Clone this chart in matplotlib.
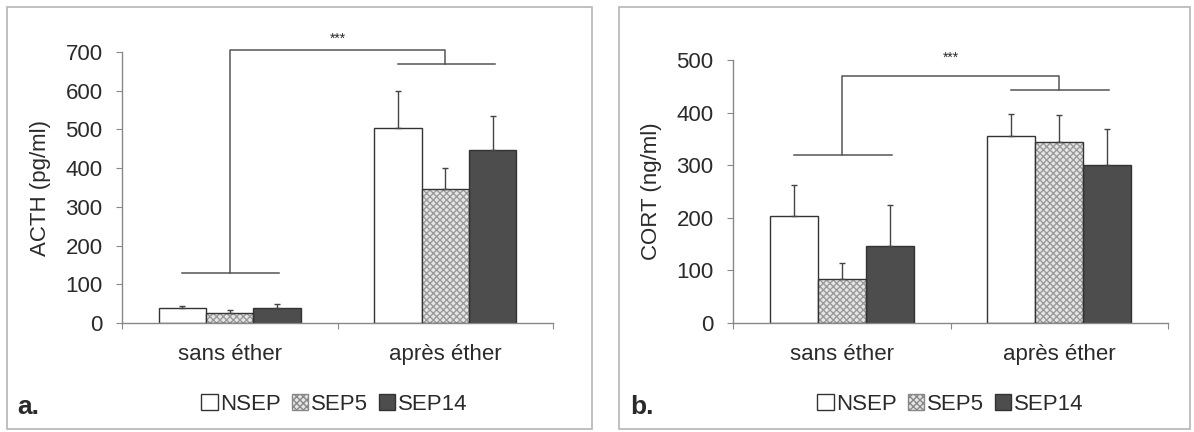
import matplotlib
matplotlib.use("Agg")
import matplotlib.pyplot as plt
import numpy as np
from matplotlib.patches import Rectangle, Patch

plt.rcParams['font.family'] = ['Liberation Sans', 'DejaVu Sans']

categories = ["sans éther", "après éther"]
series = ["NSEP", "SEP5", "SEP14"]

acth_means = {"NSEP": [38, 503], "SEP5": [25, 345], "SEP14": [40, 447]}
acth_err = {"NSEP": [5, 97], "SEP5": [8, 55], "SEP14": [10, 88]}
cort_means = {"NSEP": [203, 355], "SEP5": [83, 345], "SEP14": [147, 300]}
cort_err = {"NSEP": [60, 42], "SEP5": [32, 50], "SEP14": [78, 68]}

acth_ticks = [0, 100, 200, 300, 400, 500, 600, 700]
cort_ticks = [0, 100, 200, 300, 400, 500]

# bracket levels: (top, left-group level, right-group level, star level)
acth_bracket = (705, 128, 670, 735)
cort_bracket = (470, 320, 443, 505)

TEXT = '#2a2a2a'
FS = 16
fig = plt.figure(figsize=(11.94, 4.32), dpi=100)

# panel frames
for x0, x1 in [(7, 592), (619, 1190)]:
    fig.add_artist(Rectangle((x0 / 1194, 1 - 429 / 432), (x1 - x0) / 1194, (429 - 7) / 432,
                             transform=fig.transFigure, fill=False, edgecolor='#b5b5b5', lw=1.2))

W = 0.22
offsets = [-W, 0, W]

def panel(rect, means, errs, ticks, ylabel, bracket, letter, letter_x, leg_x):
    ax = fig.add_axes(rect)
    x = np.arange(len(categories))
    for i, s in enumerate(series):
        xs = x + offsets[i]
        if s == "NSEP":
            ax.bar(xs, means[s], W, facecolor='white', edgecolor='#333333', lw=1.0, zorder=2)
        elif s == "SEP5":
            ax.bar(xs, means[s], W, facecolor='#e6e6e6', edgecolor='#9a9a9a', hatch='xxxxx', lw=0, zorder=2)
            ax.bar(xs, means[s], W, facecolor='none', edgecolor='#333333', lw=1.0, zorder=3)
        else:
            ax.bar(xs, means[s], W, facecolor='#4d4d4d', edgecolor='#333333', lw=1.0, zorder=2)
        ax.errorbar(xs, means[s], yerr=[np.zeros(len(xs)), errs[s]], fmt='none',
                    ecolor='#444444', elinewidth=1.0, capsize=2.5, capthick=1.0, zorder=4)
    ax.set_xlim(-0.5, 1.5)
    ax.set_ylim(0, ticks[-1])
    ax.set_yticks(ticks)
    ax.set_yticklabels([str(t) for t in ticks], fontsize=FS, color=TEXT)
    ax.set_xticks([-0.5, 0.5, 1.5])
    ax.set_xticklabels([])
    ax.set_xticks(x, minor=True)
    ax.set_xticklabels(categories, minor=True, fontsize=FS, color=TEXT)
    ax.tick_params(axis='x', which='minor', length=0, pad=15)
    ax.tick_params(axis='x', which='major', length=4, color='#888888', direction='out')
    ax.tick_params(axis='y', length=4, color='#888888', direction='out', pad=10)
    for sp in ['top', 'right']:
        ax.spines[sp].set_visible(False)
    for sp in ['left', 'bottom']:
        ax.spines[sp].set_color('#888888')
        ax.spines[sp].set_linewidth(1.0)
    ax.set_ylabel(ylabel, fontsize=FS, color=TEXT, labelpad=10)
    top, lv, rv, star = bracket
    lc = '#555555'
    kw = dict(color=lc, lw=1.1, clip_on=False, zorder=5)
    ax.plot([0, 0, 1, 1], [lv, top, top, rv], **kw)
    ax.plot([-0.22, 0.23], [lv, lv], **kw)
    ax.plot([1 - 0.22, 1.23], [rv, rv], **kw)
    ax.text(0.5, star, '***', ha='center', va='center', fontsize=10, color=TEXT, clip_on=False)
    h = [Patch(facecolor='white', edgecolor='#333333', lw=1.0),
         Patch(facecolor='#e6e6e6', edgecolor='#888888', hatch='xxxxx', lw=1.0),
         Patch(facecolor='#4d4d4d', edgecolor='#333333', lw=1.0)]
    leg = fig.legend(h, series, loc='center', bbox_to_anchor=(leg_x / 1194, 1 - 404 / 432),
                     bbox_transform=fig.transFigure,
                     ncol=3, frameon=False, fontsize=FS, handlelength=0.75, handleheight=0.75,
                     handletextpad=0.1, columnspacing=0.5, borderaxespad=0, borderpad=0)
    for t in leg.get_texts():
        t.set_color(TEXT)
    fig.text(letter_x, 1 - 407 / 432, letter, fontsize=19, fontweight='bold', color=TEXT,
             ha='left', va='center')
    return ax

axa = panel([122 / 1194, 1 - 323 / 432, (553 - 122) / 1194, (323 - 52) / 432],
            acth_means, acth_err, acth_ticks, 'ACTH (pg/ml)', acth_bracket, 'a.', 17 / 1194, 334)
axb = panel([733 / 1194, 1 - 323 / 432, (1168 - 733) / 1194, (323 - 60) / 432],
            cort_means, cort_err, cort_ticks, 'CORT (ng/ml)', cort_bracket, 'b.', 630 / 1194, 950)

fig.savefig('out.png', dpi=100)
